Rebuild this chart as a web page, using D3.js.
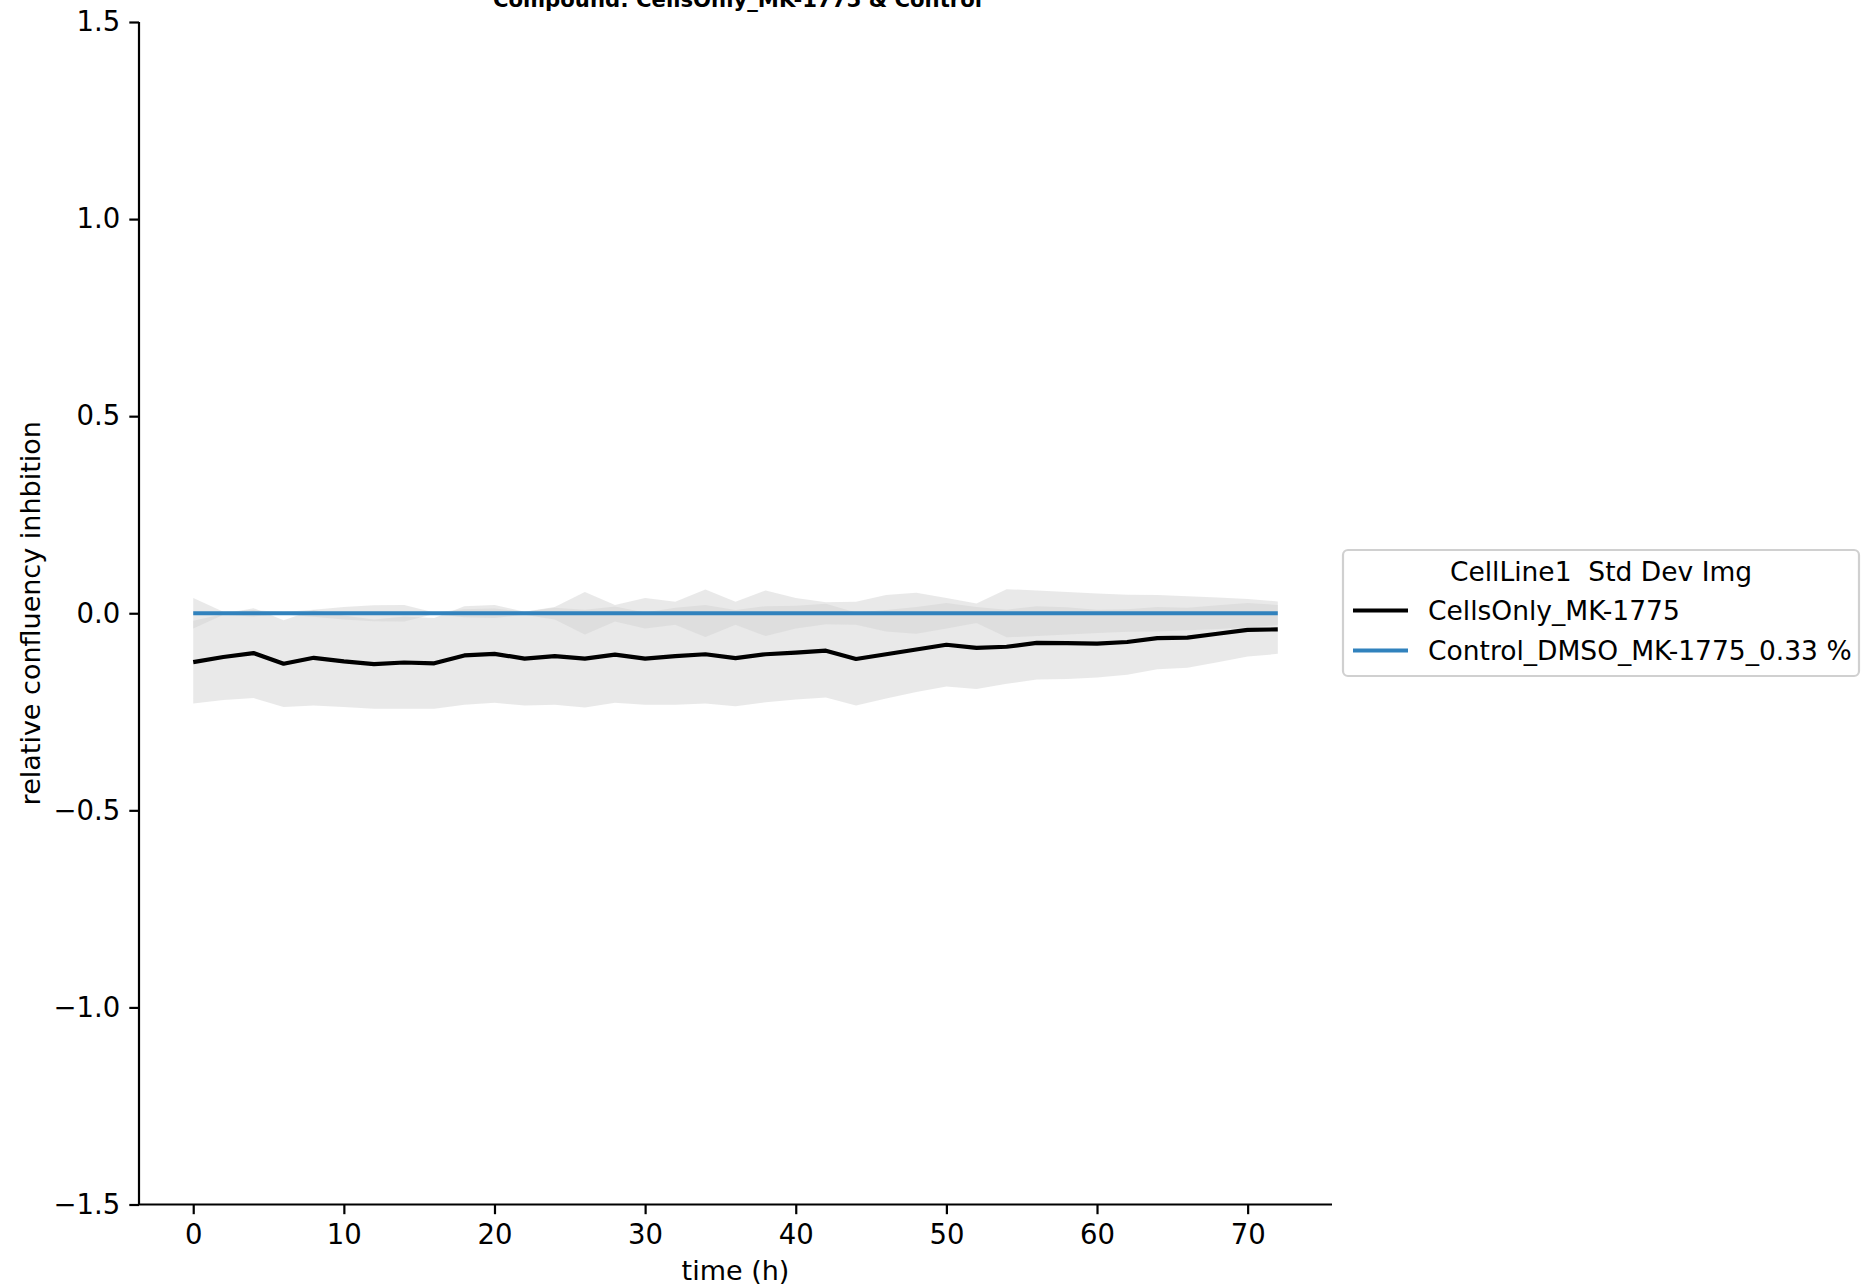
<!DOCTYPE html>
<html>
<head>
<meta charset="utf-8">
<script src="https://cdn.jsdelivr.net/npm/d3@7"></script>
<style>
  html, body { margin: 0; padding: 0; background: #ffffff; }
  svg { display: block; }
  text { font-family: "DejaVu Sans", sans-serif; fill: #000; }
</style>
</head>
<body>
<svg id="chart" width="1868" height="1287"></svg>
<script>
// ---------------- data ----------------
const chartTitle = "Compound: CellsOnly_MK-1775 & Control";
const xLabel = "time (h)";
const yLabel = "relative confluency inhbition";
const legendTitle = "CellLine1  Std Dev Img";
const seriesNames = ["CellsOnly_MK-1775", "Control_DMSO_MK-1775_0.33 %"];

const timePoints = [0,2,4,6,8,10,12,14,16,18,20,22,24,26,28,30,32,34,36,38,40,42,44,46,48,50,52,54,56,58,60,62,64,66,68,70,72];

const cellsMean = [-0.124,-0.111,-0.101,-0.128,-0.113,-0.122,-0.129,-0.125,-0.127,-0.107,-0.103,-0.115,-0.109,-0.115,-0.105,-0.115,-0.109,-0.104,-0.114,-0.104,-0.100,-0.095,-0.116,-0.104,-0.092,-0.080,-0.088,-0.085,-0.075,-0.076,-0.077,-0.073,-0.063,-0.062,-0.052,-0.042,-0.041];
const cellsStd = [0.105,0.109,0.114,0.110,0.121,0.116,0.113,0.117,0.115,0.125,0.124,0.119,0.123,0.124,0.122,0.117,0.123,0.125,0.122,0.122,0.119,0.119,0.118,0.112,0.108,0.106,0.104,0.094,0.093,0.091,0.086,0.083,0.079,0.076,0.072,0.068,0.062];

const controlMean = [0,0,0,0,0,0,0,0,0,0,0,0,0,0,0,0,0,0,0,0,0,0,0,0,0,0,0,0,0,0,0,0,0,0,0,0,0];
const controlStd = [0.039,0.004,0.008,0.003,0.009,0.016,0.020,0.021,0.002,0.010,0.012,0.004,0.016,0.054,0.021,0.039,0.029,0.060,0.029,0.058,0.039,0.028,0.029,0.046,0.052,0.039,0.025,0.061,0.058,0.054,0.050,0.047,0.046,0.043,0.040,0.036,0.030];

const xTicks = [0,10,20,30,40,50,60,70];
const yTicks = [-1.5,-1.0,-0.5,0.0,0.5,1.0,1.5];

// ---------------- layout ----------------
const svg = d3.select("#chart");
const plotL = 139, plotR = 1332, plotT = 22, plotB = 1204.5;
const tickFont = 27.5, labelFont = 27, legendFont = 26.5;

const x = d3.scaleLinear().domain([-3.6, 75.6]).range([plotL, plotR]);
const y = d3.scaleLinear().domain([-1.5, 1.5]).range([plotB, plotT]);

const cells = timePoints.map((t, i) => ({t, m: cellsMean[i], s: cellsStd[i]}));
const ctrl = timePoints.map((t, i) => ({t, m: controlMean[i], s: controlStd[i]}));

const area = d3.area().x(d => x(d.t)).y0(d => y(d.m - d.s)).y1(d => y(d.m + d.s));
const line = d3.line().x(d => x(d.t)).y(d => y(d.m));

const bandColor = "#d3d3d3", bandOpacity = 0.5;
const colors = ["#000000", "#3182bd"];

svg.append("path").datum(cells).attr("d", area).attr("fill", bandColor).attr("fill-opacity", bandOpacity);
svg.append("path").datum(cells).attr("d", line).attr("fill", "none").attr("stroke", colors[0])
  .attr("stroke-width", 4.2).attr("stroke-linejoin", "round");
svg.append("path").datum(ctrl).attr("d", area).attr("fill", bandColor).attr("fill-opacity", bandOpacity);
svg.append("path").datum(ctrl).attr("d", line).attr("fill", "none").attr("stroke", colors[1])
  .attr("stroke-width", 4.2).attr("stroke-linejoin", "round");

// ---------------- axes ----------------
const fmtY = d => (d < 0 ? "\u2212" : "") + Math.abs(d).toFixed(1);

const xAxis = svg.append("g").attr("transform", `translate(0,${plotB})`)
  .call(d3.axisBottom(x).tickValues(xTicks).tickSize(9.7).tickPadding(10.5).tickFormat(d3.format("d")));
const yAxis = svg.append("g").attr("transform", `translate(${plotL},0)`)
  .call(d3.axisLeft(y).tickValues(yTicks).tickSize(9.7).tickPadding(9).tickFormat(fmtY));

[xAxis, yAxis].forEach(g => {
  g.select(".domain").attr("stroke", "#000").attr("stroke-width", 2.2);
  g.selectAll(".tick line").attr("stroke", "#000").attr("stroke-width", 2.2);
  g.selectAll(".tick text").attr("font-family", "DejaVu Sans").attr("font-size", tickFont).attr("fill", "#000");
});
xAxis.select(".domain").attr("d", `M${plotL},0H${plotR}`);
yAxis.select(".domain").attr("d", `M0,${plotT}V${plotB}`);

// axis labels
svg.append("text").attr("x", (plotL + plotR) / 2).attr("y", 1280)
  .attr("text-anchor", "middle").attr("font-size", labelFont).text(xLabel);
svg.append("text").attr("transform", `translate(40,${(plotT + plotB) / 2}) rotate(-90)`)
  .attr("text-anchor", "middle").attr("font-size", labelFont).text(yLabel);

// title (clipped at the top edge, as in the reference)
svg.append("text").attr("x", (plotL + plotR) / 2 + 2).attr("y", 7)
  .attr("text-anchor", "middle").attr("font-size", 21.2).attr("font-weight", "bold").text(chartTitle);

// ---------------- legend ----------------
const lg = svg.append("g");
lg.append("rect").attr("x", 1343).attr("y", 550).attr("width", 516).attr("height", 126)
  .attr("rx", 5).attr("fill", "#fff").attr("fill-opacity", 0.8)
  .attr("stroke", "#d0d0d0").attr("stroke-width", 2.2);
lg.append("text").attr("x", 1601).attr("y", 581).attr("text-anchor", "middle")
  .style("white-space", "pre").attr("xml:space", "preserve")
  .attr("font-size", legendFont).text(legendTitle);
seriesNames.forEach((name, i) => {
  const cy = 610.5 + i * 40;
  lg.append("line").attr("x1", 1353).attr("x2", 1408).attr("y1", cy).attr("y2", cy)
    .attr("stroke", colors[i]).attr("stroke-width", 4.2);
  lg.append("text").attr("x", 1428).attr("y", cy + 9.5).attr("font-size", legendFont).text(name);
});
</script>
</body>
</html>
